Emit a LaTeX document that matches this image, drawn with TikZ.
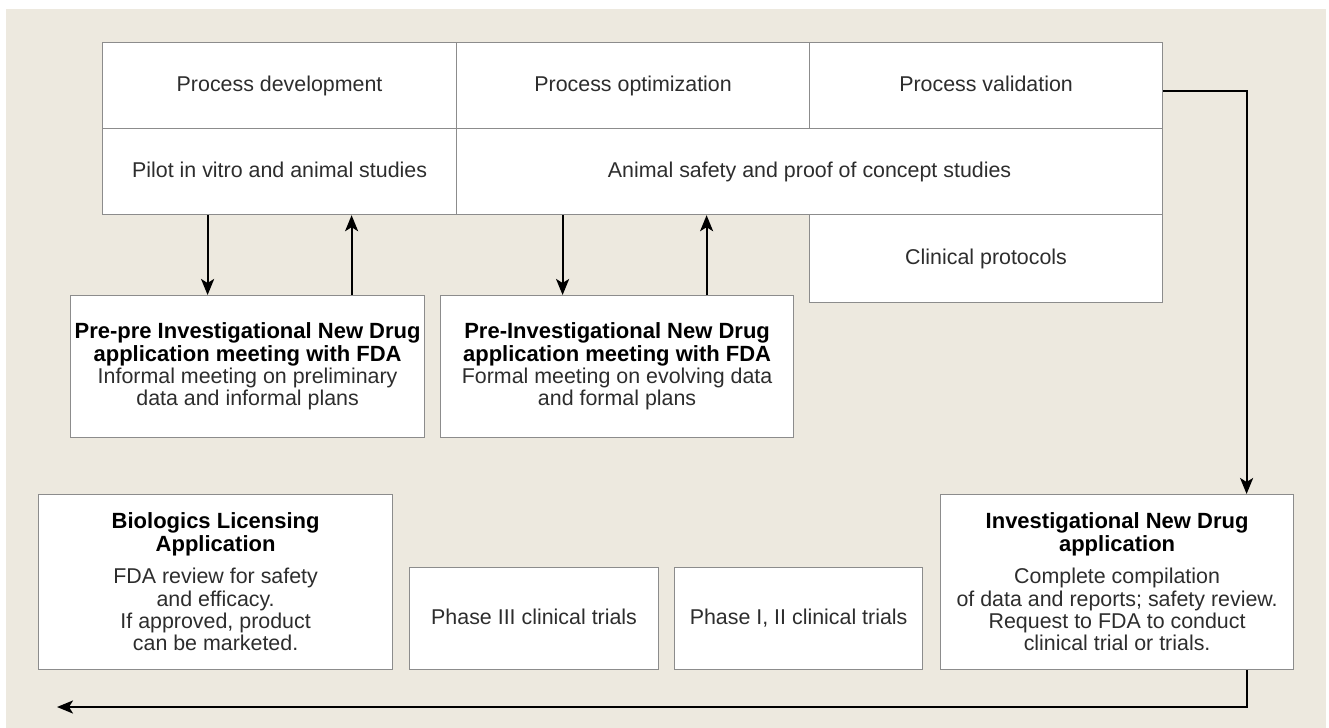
\documentclass[tikz,border=0pt]{standalone}
\usepackage{fontspec}
\setmainfont{Liberation Sans}
\usepackage{tikz}
\usetikzlibrary{positioning}
\usetikzlibrary{arrows.meta,calc}
\definecolor{paper}{RGB}{237,233,223}
\definecolor{rule}{RGB}{140,140,140}
\definecolor{ink}{RGB}{45,45,45}
\newcommand{\boxhead}[1]{\textcolor{black}{\fontsize{11}{11.2}\selectfont\bfseries #1}}
\tikzstyle{cell}=[draw=rule,line width=0.6pt,fill=white,inner sep=0pt,anchor=north west,align=center,text=ink,font=\fontsize{10.7}{11.2}\selectfont]
\tikzstyle{oneline}=[text height=7.7pt,text depth=2.3pt]
\tikzstyle{edge} = [draw,line width=1.1pt,-{Stealth[length=8pt,width=6.5pt,inset=2pt]}]

\begin{document}
\begin{tikzpicture}[x=0.5pt,y=-0.5pt]

  \useasboundingbox (0,0) rectangle (1329,728);
  \fill[paper] (6,9) rectangle (1326,728);

  % process table
  \foreach \name/\x/\y/\w/\h/\label in {dev/102/42/177pt/43pt/Process development,
      opt/456/42/176.5pt/43pt/Process optimization, valid/809/42/176.5pt/43pt/Process validation,
      pilot/102/128/177pt/43pt/Pilot in vitro and animal studies,
      animal/456/128/353pt/43pt/Animal safety and proof of concept studies,
      clin/809/214/176.5pt/44pt/Clinical protocols}
     \node[cell, oneline, minimum width=\w, minimum height=\h] (\name) at (\x,\y) {\label};

  % meetings
  \node[cell, minimum width=177pt, minimum height=71pt] (prepre) at (70,295)
     {\boxhead{Pre-pre Investigational New Drug}\\ \boxhead{application meeting with FDA}\\
      Informal meeting on preliminary\\ data and informal plans};
  \node[cell, minimum width=176.5pt, minimum height=71pt] (preind) at (440,295)
     {\boxhead{Pre-Investigational New Drug}\\ \boxhead{application meeting with FDA}\\
      Formal meeting on evolving data\\ and formal plans};

  % bottom row
  \node[cell, minimum width=177pt, minimum height=87.5pt] (bla) at (38,494)
     {\boxhead{Biologics Licensing}\\ \boxhead{Application}\\[5pt]
      FDA review for safety\\ and efficacy.\\ If approved, product\\ can be marketed.};
  \node[cell, oneline, minimum width=124.5pt, minimum height=51pt] (phthree) at (409,567) {Phase III clinical trials};
  \node[cell, oneline, minimum width=124pt, minimum height=51pt] (phone) at (674,567) {Phase I, II clinical trials};
  \node[cell, minimum width=176.5pt, minimum height=87.5pt] (ind) at (940,494)
     {\boxhead{Investigational New Drug}\\ \boxhead{application}\\[5pt]
      Complete compilation\\ of data and reports; safety review.\\ Request to FDA to conduct\\ clinical trial or trials.};

  \coordinate (exit) at (57,707);

  \foreach \src/\dst/\sh in {pilot/prepre/-20pt, animal/preind/-27.25pt}
     \draw[edge] ([xshift=\sh]\dst.north |- \src.south) -- ([xshift=\sh]\dst.north);
  \foreach \src/\dst/\sh in {prepre/pilot/52pt, preind/animal/44.75pt}
     \draw[edge] ([xshift=\sh]\src.north) -- ([xshift=\sh]\src.north |- \dst.south);

  \draw[edge] ([yshift=-2.5pt]valid.east) -| ([xshift=64.75pt]ind.north);
  \draw[edge] ([xshift=64.75pt]ind.south) |- (exit);

\end{tikzpicture}
\end{document}
